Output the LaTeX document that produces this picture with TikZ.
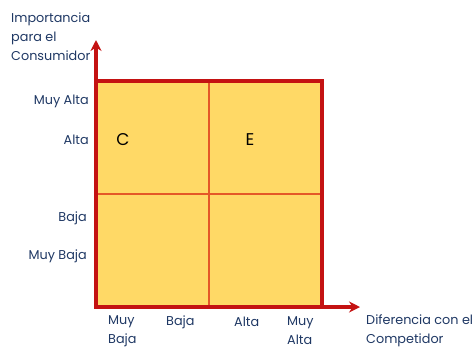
\documentclass[tikz,border=0pt]{standalone}
\usepackage{fontspec}
\setmainfont{Poppins}
\usetikzlibrary{arrows.meta}
\definecolor{axred}{RGB}{196,18,18}
\definecolor{inred}{RGB}{228,88,40}
\definecolor{fillyel}{RGB}{255,217,102}
\definecolor{txtblue}{RGB}{31,56,100}
\begin{document}
\begin{tikzpicture}[x=1pt,y=-1pt,
  lbl/.style={font=\fontsize{12.8}{19}\selectfont,text=txtblue,inner sep=0pt},
  axis/.style={draw=axred,line width=3.2pt,-{Stealth[length=11pt,width=11pt]}},
  quad/.style={font=\fontsize{17}{19}\selectfont,text=black,inner sep=0pt}]
\useasboundingbox (0,0) rectangle (476,349);
\fill[fillyel] (96,81) rectangle (322,307);
\draw[inred,line width=1.5pt] (209,81) -- (209,307) (96,194) -- (322,194);
\draw[axred,line width=3.2pt] (96,81) rectangle (322,307);
\coordinate (o) at (96,307);
\coordinate (ytip) at (96,40);
\coordinate (xtip) at (360,307);
\draw[axis] (o) -- (ytip);
\draw[axis] (o) -- (xtip);
\node[quad] (c) at (123,140) {C};
\node[quad] (e) at (250,140) {E};
\node[lbl,anchor=west,align=left] (ylab) at (11,37) {Importancia\\para el\\Consumidor};
\node[lbl,anchor=east] (y1) at (89,101) {Muy Alta};
\node[lbl,anchor=east] (y2) at (89,140) {Alta};
\node[lbl,anchor=east] (y3) at (87,218) {Baja};
\node[lbl,anchor=east] (y4) at (87,256) {Muy Baja};
\node[lbl,anchor=west,align=left] (x1) at (108,331) {Muy\\Baja};
\node[lbl,anchor=west] (x2) at (166,322) {Baja};
\node[lbl,anchor=west] (x3) at (234,322) {Alta};
\node[lbl,anchor=west,align=left] (x4) at (287,331) {Muy\\Alta};
\node[lbl,anchor=west,align=left] (xlab) at (366,331) {Diferencia con el\\Competidor};
\end{tikzpicture}
\end{document}
